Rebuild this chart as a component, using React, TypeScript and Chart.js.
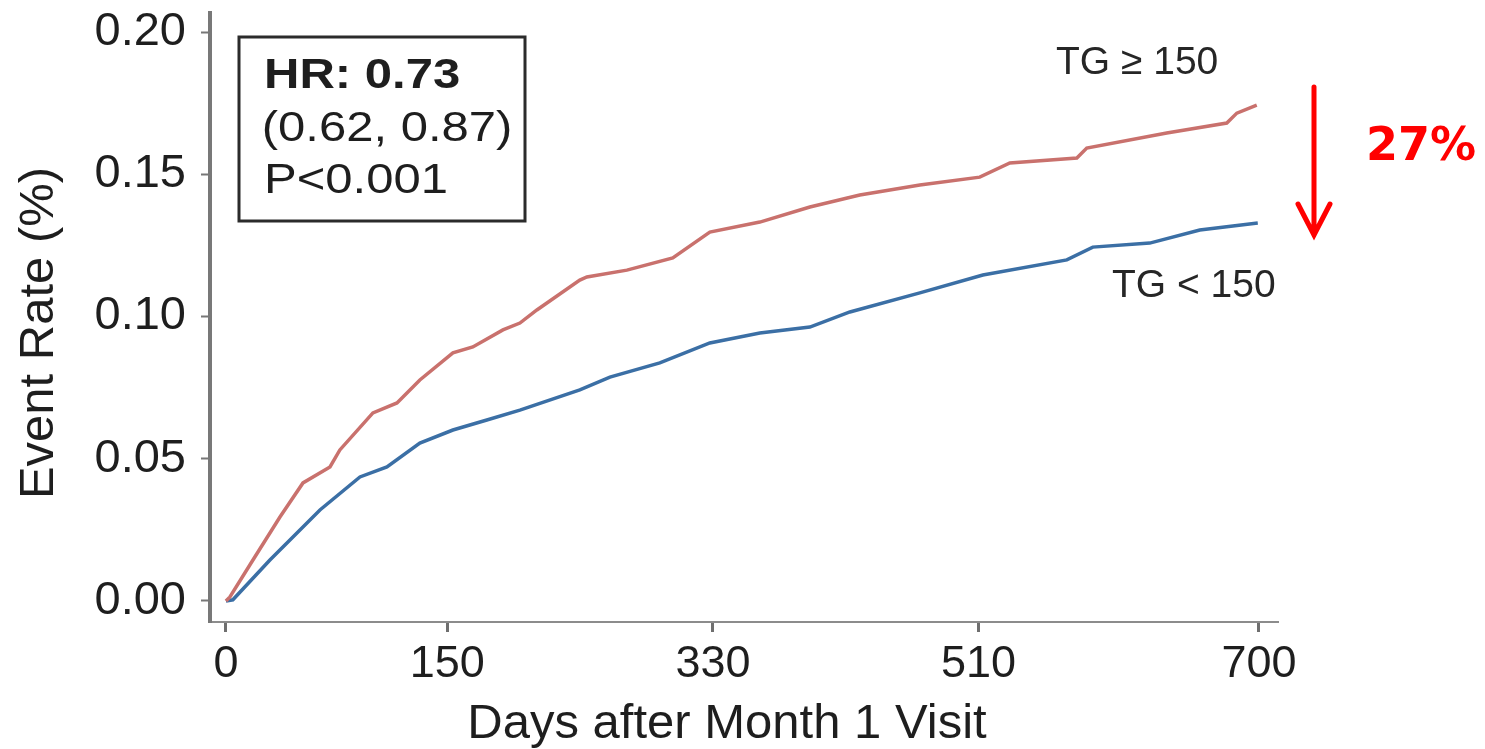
import React, { useEffect, useRef } from 'react';
import { Chart, registerables } from 'chart.js';

Chart.register(...registerables);

// ---- data ----
const xTickValues = [0, 150, 330, 510, 700];
const yTickValues = [0, 0.05, 0.1, 0.15, 0.2];

const highLabel = 'TG ≥ 150';
const lowLabel = 'TG < 150';

const highDays = [0, 2.7, 18.3, 36.6, 52.2, 70.5, 77.2, 99.6, 115.9, 131.4, 153.8, 167.3, 187.7, 199.2, 210.7, 239.8, 244.6, 271.7, 302.8, 327.9, 361.8, 395.7, 429.5, 470.2, 510.8, 531.2, 576.6, 583.3, 637.5, 678.2, 685.0, 698.5];
const highRate = [0, 0.0014, 0.0144, 0.0295, 0.0415, 0.0471, 0.0531, 0.0661, 0.0696, 0.0777, 0.0872, 0.0893, 0.0953, 0.0977, 0.1023, 0.1128, 0.1139, 0.1163, 0.1206, 0.1297, 0.1332, 0.1385, 0.1427, 0.1462, 0.149, 0.154, 0.1557, 0.1592, 0.1645, 0.168, 0.1715, 0.1743];

const lowDays = [0, 4.7, 29.8, 63.7, 90.8, 109.1, 131.4, 153.8, 176.8, 199.2, 239.8, 260.2, 294.0, 327.9, 361.8, 395.7, 422.8, 470.2, 512.9, 569.8, 587.4, 626.0, 659.9, 699.2];
const lowRate = [0, 0.0004, 0.0144, 0.032, 0.0436, 0.0471, 0.0555, 0.0601, 0.0636, 0.0671, 0.0742, 0.0787, 0.0837, 0.0907, 0.0942, 0.0963, 0.1016, 0.1083, 0.1146, 0.1199, 0.1244, 0.1258, 0.1304, 0.1329];

const hrLines = ['HR: 0.73', '(0.62, 0.87)', 'P<0.001'];
const reductionLabel = '27%';
const xTitle = 'Days after Month 1 Visit';
const yTitle = 'Event Rate (%)';

const FONT = '"Liberation Sans", Arial, Helvetica, sans-serif';

const annotationPlugin = {
  id: 'annotations',
  afterDraw(chart: any) {
    const ctx = chart.ctx as CanvasRenderingContext2D;
    ctx.save();
    // HR box
    ctx.strokeStyle = '#2b2b2b';
    ctx.lineWidth = 3;
    ctx.strokeRect(239, 37, 286, 184);
    ctx.fillStyle = '#1e1e1e';
    ctx.textAlign = 'left';
    ctx.textBaseline = 'alphabetic';
    ctx.save();
    ctx.translate(264, 0);
    ctx.scale(1.14, 1);
    ctx.font = `bold 43px ${FONT}`;
    ctx.fillText(hrLines[0], 0, 88);
    ctx.font = `43px ${FONT}`;
    ctx.fillText(hrLines[1], -2, 141);
    ctx.fillText(hrLines[2], 0, 193);
    ctx.restore();

    // axis titles
    ctx.fillStyle = '#1e1e1e';
    ctx.textAlign = 'center';
    ctx.font = `49px ${FONT}`;
    ctx.fillText(xTitle, 727, 738);

    ctx.save();
    ctx.translate(53, 333);
    ctx.rotate(-Math.PI / 2);
    ctx.fillText(yTitle, 0, 0);
    ctx.restore();

    // series labels
    ctx.textAlign = 'left';
    ctx.fillStyle = '#262626';
    ctx.font = `39px ${FONT}`;
    ctx.fillText(highLabel, 1056, 74);
    ctx.fillText(lowLabel, 1112, 297);

    // red arrow
    ctx.strokeStyle = '#ff0000';
    ctx.lineWidth = 5;
    ctx.lineCap = 'round';
    ctx.beginPath();
    ctx.moveTo(1314, 87);
    ctx.lineTo(1314, 234);
    ctx.moveTo(1298, 204);
    ctx.lineTo(1314, 235);
    ctx.lineTo(1330, 204);
    ctx.stroke();

    ctx.fillStyle = '#ff0000';
    ctx.font = `bold 46px "Comic Sans MS", "DejaVu Sans", sans-serif`;
    ctx.fillText(reductionLabel, 1366, 160);
    ctx.restore();
  },
};

export default function App() {
  const canvasRef = useRef<HTMLCanvasElement | null>(null);

  useEffect(() => {
    if (!canvasRef.current) return;
    const chart = new Chart(canvasRef.current, {
      type: 'line',
      data: {
        datasets: [
          {
            label: highLabel,
            data: highDays.map((d, i) => ({ x: d, y: highRate[i] })),
            borderColor: '#c9716d',
            borderWidth: 3.5,
            pointRadius: 0,
            tension: 0,
          },
          {
            label: lowLabel,
            data: lowDays.map((d, i) => ({ x: d, y: lowRate[i] })),
            borderColor: '#3b6fa5',
            borderWidth: 3.5,
            pointRadius: 0,
            tension: 0,
          },
        ],
      },
      options: {
        animation: false,
        responsive: true,
        maintainAspectRatio: false,
        layout: { padding: { left: 0, top: 13, right: 207, bottom: 0 } },
        plugins: {
          legend: { display: false },
          tooltip: { enabled: false },
        },
        scales: {
          x: {
            type: 'linear',
            min: -10.8,
            max: 712.9,
            afterFit: (s: any) => {
              s.height = 127;
              s.paddingLeft = 0;
              s.paddingRight = 0;
              s.paddingTop = 0;
              s.paddingBottom = 0;
            },
            afterBuildTicks: (s: any) => { s.ticks = xTickValues.map((v) => ({ value: v })); },
            border: { color: '#8c8c8c', width: 2, dash: [5, 3] },
            grid: { drawOnChartArea: false, drawTicks: true, tickLength: 10, tickWidth: 3, tickColor: '#6f6f6f' },
            ticks: {
              color: '#1e1e1e',
              padding: 6,
              maxRotation: 0,
              font: { family: FONT, size: 45 },
              callback: (v: any) => String(v),
            },
            title: { display: false },
          },
          y: {
            type: 'linear',
            min: -0.0074,
            max: 0.2067,
            afterFit: (s: any) => {
              s.width = 210;
              s.paddingLeft = 0;
              s.paddingRight = 0;
              s.paddingTop = 0;
              s.paddingBottom = 0;
            },
            afterBuildTicks: (s: any) => { s.ticks = yTickValues.map((v) => ({ value: v })); },
            border: { color: '#787878', width: 4 },
            grid: { drawOnChartArea: false, drawTicks: true, tickLength: 9, tickWidth: 2, tickColor: '#777777' },
            ticks: {
              color: '#1e1e1e',
              padding: 15,
              font: { family: FONT, size: 47 },
              callback: (v: any) => Number(v).toFixed(2),
            },
            title: { display: false },
          },
        },
      },
      plugins: [annotationPlugin],
    });
    return () => chart.destroy();
  }, []);

  return (
    <div style={{ position: 'absolute', left: 0, top: 0, width: 1485, height: 749, background: '#ffffff' }}>
      <canvas ref={canvasRef} />
    </div>
  );
}
